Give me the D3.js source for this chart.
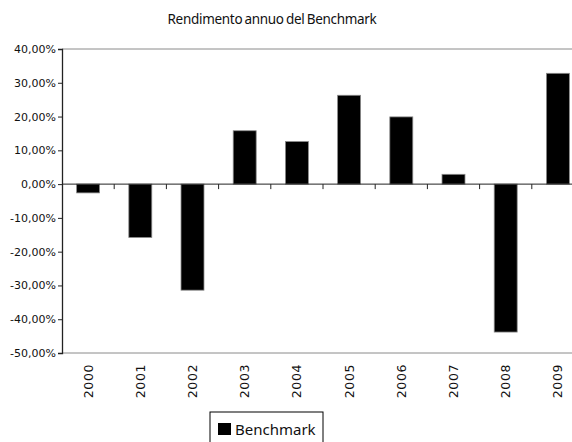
<!DOCTYPE html>
<html>
<head>
<meta charset="utf-8">
<script src="https://cdn.jsdelivr.net/npm/d3@7"></script>
<style>
  body { margin: 0; background: #fff; }
  svg { display: block; }
</style>
</head>
<body>
<svg width="572" height="442"></svg>
<script>
const years = ["2000", "2001", "2002", "2003", "2004", "2005", "2006", "2007", "2008", "2009"];
const benchmark = [-2.6, -15.8, -31.4, 15.8, 12.6, 26.3, 19.9, 2.9, -43.8, 32.8];
const yTicks = [40, 30, 20, 10, 0, -10, -20, -30, -40, -50];

const svg = d3.select("svg");
const plotLeft = 62, plotRight = 584, plotTop = 49, plotBottom = 353;

const x = d3.scaleBand()
  .domain(years)
  .range([plotLeft, plotRight])
  .paddingInner(0.56)
  .paddingOuter(0.28);

const y = d3.scaleLinear().domain([-50, 40]).range([plotBottom, plotTop]);

const fmt = v => d3.format(".2f")(v).replace(".", ",").replace("−", "-") + "%";

// title
svg.append("text")
  .attr("x", 272)
  .attr("y", 24)
  .attr("text-anchor", "middle")
  .style("font-family", "'Noto Sans'")
  .style("font-size", "13.5px")
  .style("letter-spacing", "-0.3px")
  .style("word-spacing", "-1px")
  .attr("fill", "#111")
  .text("Rendimento annuo del Benchmark");

// plot frame (top / bottom)
[40, -50].forEach(v => {
  svg.append("line")
    .attr("x1", plotLeft).attr("x2", 572)
    .attr("y1", y(v)).attr("y2", y(v))
    .attr("stroke", "#8a8a8a").attr("stroke-width", 1);
});

// bars
svg.selectAll(".bar")
  .data(benchmark)
  .join("rect")
  .attr("class", "bar")
  .attr("x", (d, i) => x(years[i]))
  .attr("width", x.bandwidth())
  .attr("y", d => y(Math.max(0, d)))
  .attr("height", d => Math.abs(y(d) - y(0)))
  .attr("fill", "#000")
  .attr("stroke", "#8a8a8a")
  .attr("stroke-width", 0.8);

// y axis
const yAxis = d3.axisLeft(y).tickValues(yTicks).tickSize(4).tickFormat(fmt);
svg.append("g")
  .attr("transform", `translate(${plotLeft},0)`)
  .call(yAxis)
  .call(g => g.select(".domain").attr("stroke", "#222").attr("stroke-width", 1.3))
  .call(g => g.selectAll(".tick line").attr("stroke", "#222"))
  .call(g => g.selectAll("text")
    .style("font-family", "'DejaVu Sans'")
    .style("font-size", "11px")
    .attr("fill", "#111")
    .attr("x", -6));

// zero line with category ticks
svg.append("line")
  .attr("x1", plotLeft).attr("x2", 572)
  .attr("y1", y(0)).attr("y2", y(0))
  .attr("stroke", "#222").attr("stroke-width", 1);

svg.selectAll(".xtick")
  .data(years.slice(1))
  .join("line")
  .attr("class", "xtick")
  .attr("x1", d => x(d) - x.step() * x.paddingInner() / 2)
  .attr("x2", d => x(d) - x.step() * x.paddingInner() / 2)
  .attr("y1", y(0)).attr("y2", y(0) + 5)
  .attr("stroke", "#222");

// rotated year labels
svg.selectAll(".xlab")
  .data(years)
  .join("text")
  .attr("class", "xlab")
  .attr("transform", d => `translate(${x(d) + x.bandwidth() / 2 + 4.5},364) rotate(-90)`)
  .attr("text-anchor", "end")
  .style("font-family", "'DejaVu Sans'")
  .style("font-size", "12.5px")
  .style("letter-spacing", "0.6px")
  .attr("fill", "#111")
  .text(d => d);

// legend
const lg = svg.append("g").attr("transform", "translate(210,412)");
lg.append("rect")
  .attr("x", 0).attr("y", 0).attr("width", 113).attr("height", 40)
  .attr("fill", "#fff").attr("stroke", "#000").attr("stroke-width", 1);
lg.append("rect")
  .attr("x", 8).attr("y", 11).attr("width", 13).attr("height", 12)
  .attr("fill", "#000");
lg.append("text")
  .attr("x", 25).attr("y", 22.5)
  .style("font-family", "'Noto Sans'")
  .style("font-size", "15px")
  .attr("fill", "#111")
  .text("Benchmark");
</script>
</body>
</html>
